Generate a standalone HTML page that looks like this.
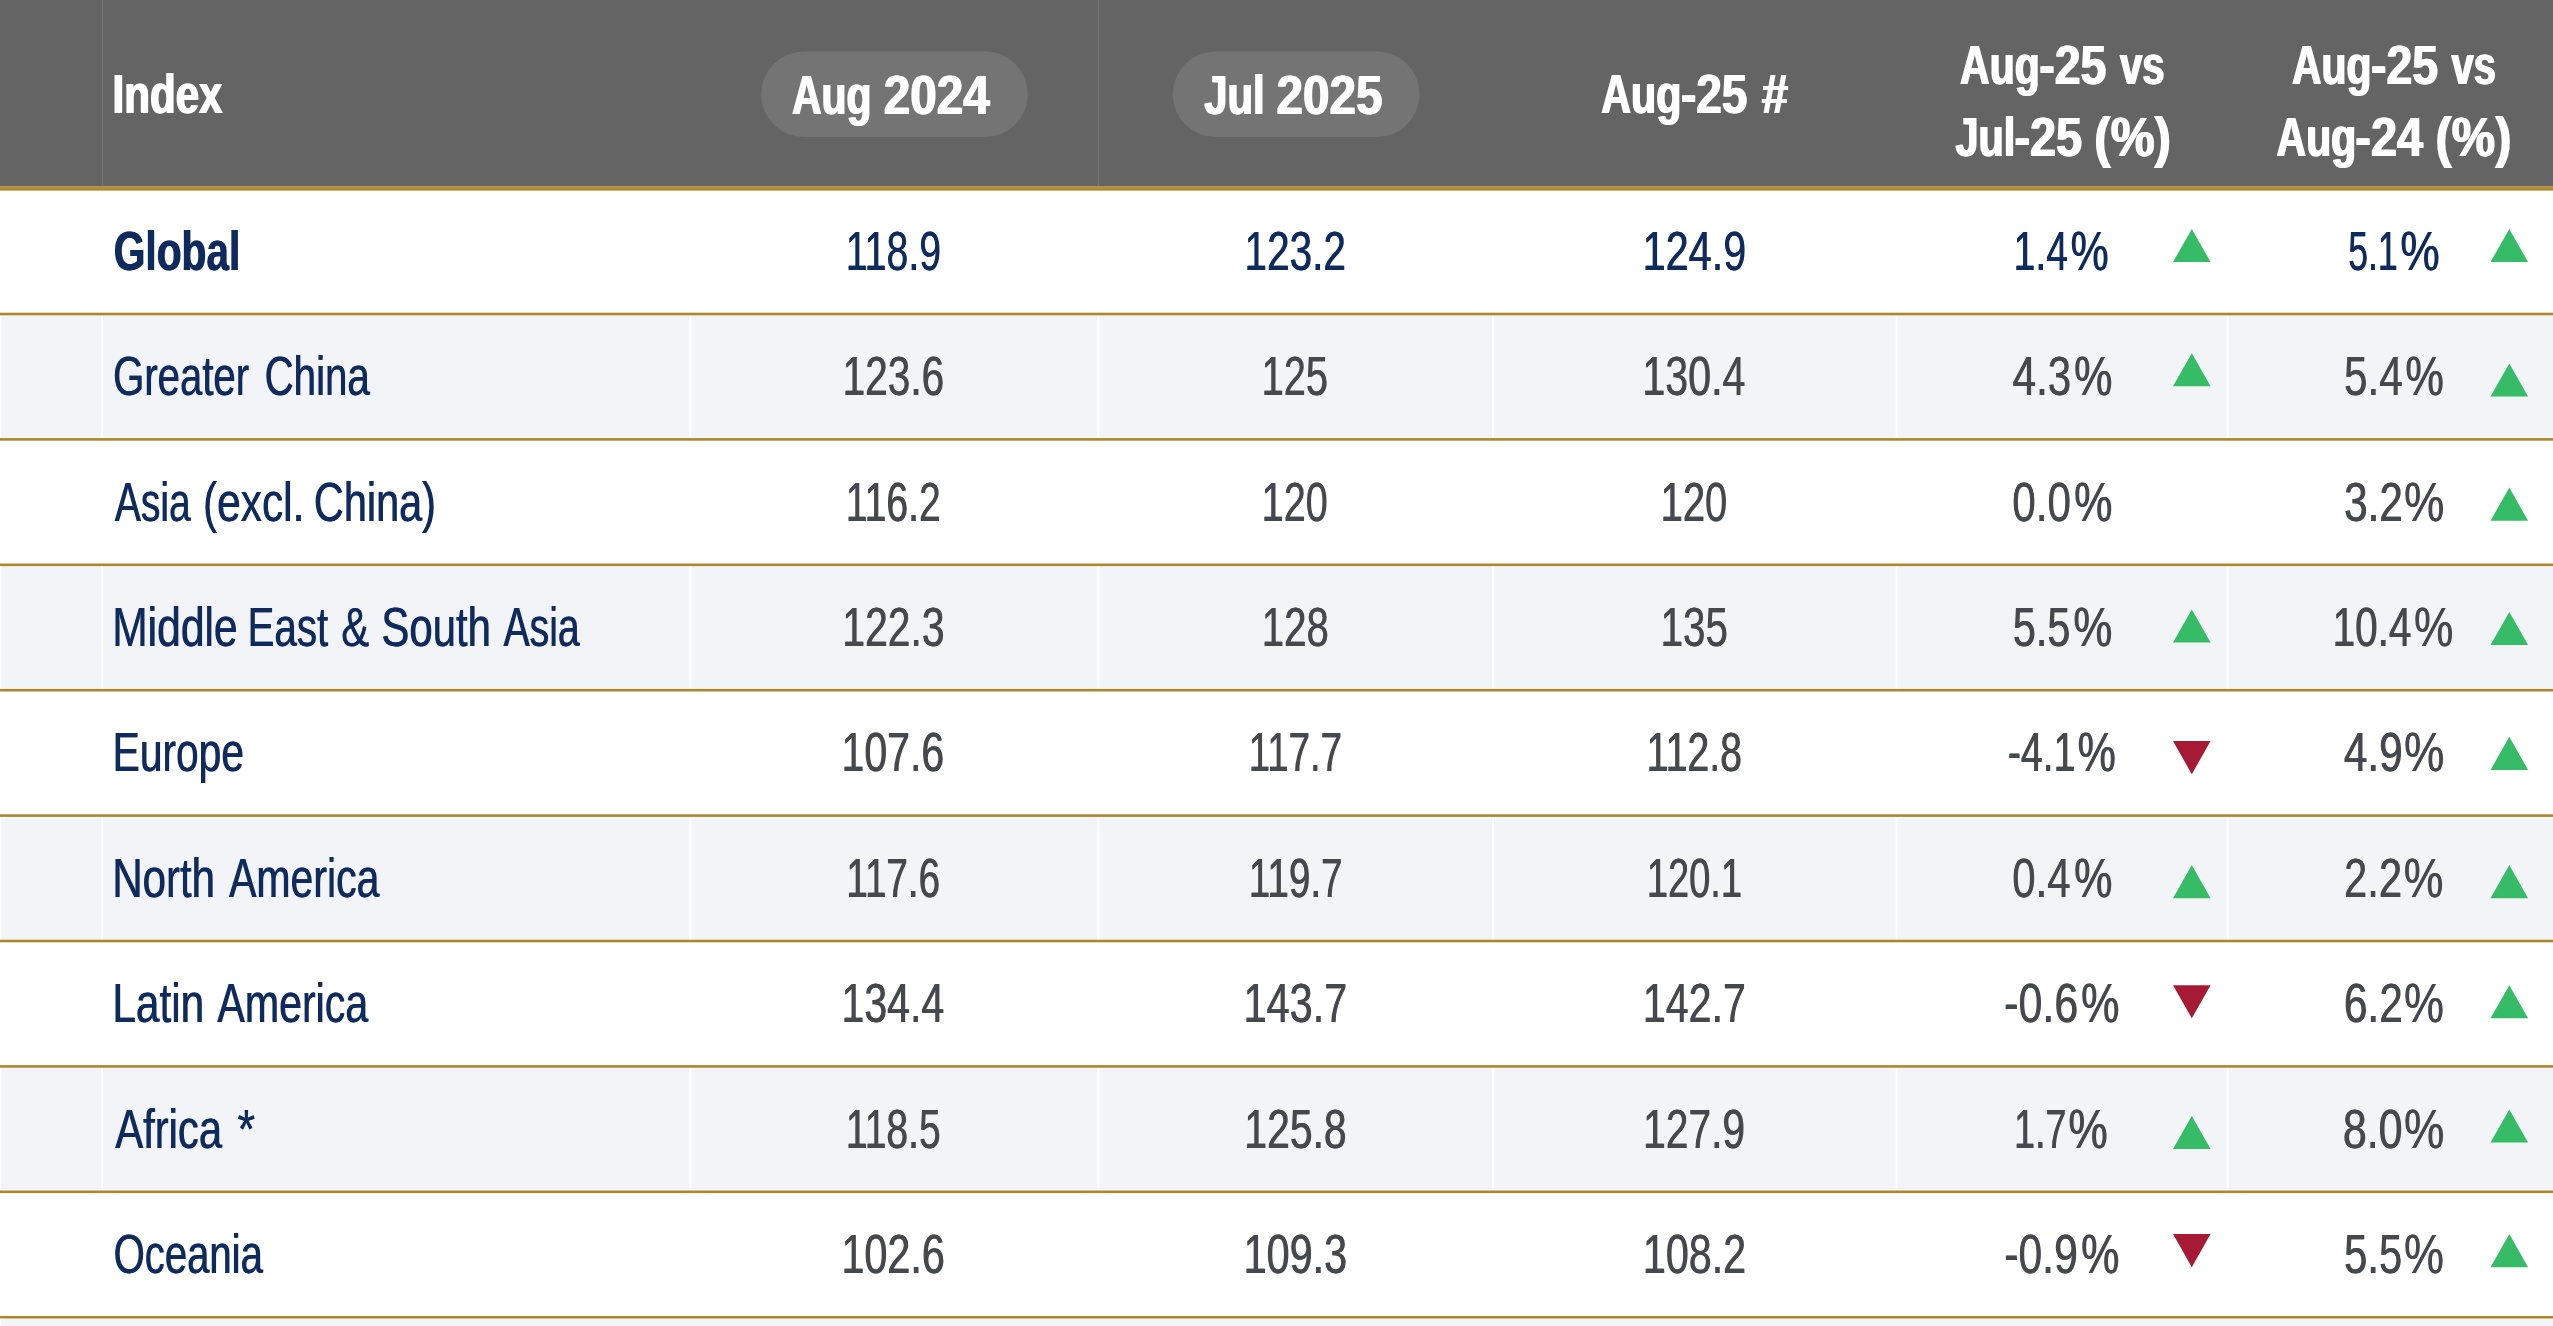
<!DOCTYPE html>
<html lang="en"><head><meta charset="utf-8"><title>Index table</title>
<style>
html,body{margin:0;padding:0;background:#fff}
body{position:relative;width:2553px;height:1326px;overflow:hidden;font-family:"Liberation Sans",Arial,Helvetica,sans-serif;font-size:55px;line-height:1}
svg{position:absolute;left:0;top:0;display:block}
.table{position:absolute;left:0;top:0;width:2553px;height:1326px;filter:blur(0.35px)}
.t{position:absolute;left:0;top:0;transform-origin:0 0;white-space:pre;font-weight:400}
.b{font-weight:700}.w{color:#fff}.n{color:#0f2a5c}.g{color:#47484d}
</style></head><body>
<svg width="2553" height="1326" viewBox="0 0 2553 1326">
<rect x="1.3" y="315.30" width="2553.0" height="122.80" fill="#f2f4f8"/>
<rect x="101.10" y="315.30" width="2.0" height="122.80" fill="#fff"/>
<rect x="689.50" y="315.30" width="1.8" height="122.80" fill="#fff"/>
<rect x="1097.50" y="315.30" width="1.8" height="122.80" fill="#fff"/>
<rect x="1492.30" y="315.30" width="1.8" height="122.80" fill="#fff"/>
<rect x="1895.70" y="315.30" width="1.8" height="122.80" fill="#fff"/>
<rect x="2226.80" y="315.30" width="1.8" height="122.80" fill="#fff"/>
<rect x="1.3" y="566.10" width="2553.0" height="122.80" fill="#f2f4f8"/>
<rect x="101.10" y="566.10" width="2.0" height="122.80" fill="#fff"/>
<rect x="689.50" y="566.10" width="1.8" height="122.80" fill="#fff"/>
<rect x="1097.50" y="566.10" width="1.8" height="122.80" fill="#fff"/>
<rect x="1492.30" y="566.10" width="1.8" height="122.80" fill="#fff"/>
<rect x="1895.70" y="566.10" width="1.8" height="122.80" fill="#fff"/>
<rect x="2226.80" y="566.10" width="1.8" height="122.80" fill="#fff"/>
<rect x="1.3" y="816.90" width="2553.0" height="122.80" fill="#f2f4f8"/>
<rect x="101.10" y="816.90" width="2.0" height="122.80" fill="#fff"/>
<rect x="689.50" y="816.90" width="1.8" height="122.80" fill="#fff"/>
<rect x="1097.50" y="816.90" width="1.8" height="122.80" fill="#fff"/>
<rect x="1492.30" y="816.90" width="1.8" height="122.80" fill="#fff"/>
<rect x="1895.70" y="816.90" width="1.8" height="122.80" fill="#fff"/>
<rect x="2226.80" y="816.90" width="1.8" height="122.80" fill="#fff"/>
<rect x="1.3" y="1067.70" width="2553.0" height="122.80" fill="#f2f4f8"/>
<rect x="101.10" y="1067.70" width="2.0" height="122.80" fill="#fff"/>
<rect x="689.50" y="1067.70" width="1.8" height="122.80" fill="#fff"/>
<rect x="1097.50" y="1067.70" width="1.8" height="122.80" fill="#fff"/>
<rect x="1492.30" y="1067.70" width="1.8" height="122.80" fill="#fff"/>
<rect x="1895.70" y="1067.70" width="1.8" height="122.80" fill="#fff"/>
<rect x="2226.80" y="1067.70" width="1.8" height="122.80" fill="#fff"/>
<rect x="1.3" y="1318.50" width="2553.0" height="7.50" fill="#f2f4f8"/>
<rect x="0" y="0" width="2553" height="186.3" fill="#646464"/>
<rect x="101.90" y="0" width="1.2" height="186.3" fill="#767676"/>
<rect x="1097.90" y="0" width="1.2" height="186.3" fill="#767676"/>
<rect x="0" y="186.4" width="2553" height="4.2" fill="#ad872d"/>
<rect x="0" y="186.4" width="2553" height="2.4" fill="#b3913b"/>
<rect x="0" y="312.70" width="2553" height="2.60" fill="#ad872d"/>
<rect x="0" y="438.10" width="2553" height="2.60" fill="#ad872d"/>
<rect x="0" y="563.50" width="2553" height="2.60" fill="#ad872d"/>
<rect x="0" y="688.90" width="2553" height="2.60" fill="#ad872d"/>
<rect x="0" y="814.30" width="2553" height="2.60" fill="#ad872d"/>
<rect x="0" y="939.70" width="2553" height="2.60" fill="#ad872d"/>
<rect x="0" y="1065.10" width="2553" height="2.60" fill="#ad872d"/>
<rect x="0" y="1190.50" width="2553" height="2.60" fill="#ad872d"/>
<rect x="0" y="1315.90" width="2553" height="2.60" fill="#ad872d"/>
<rect x="761.2" y="51.6" width="266.6" height="85.4" rx="42.7" fill="#747474"/>
<rect x="1172.7" y="51.6" width="246.9" height="85.4" rx="42.7" fill="#747474"/>
<polygon points="2191.80,228.90 2210.60,262.00 2173.00,262.00" fill="#36bb66"/>
<polygon points="2509.30,228.90 2528.10,262.00 2490.50,262.00" fill="#36bb66"/>
<polygon points="2191.80,353.20 2210.60,386.30 2173.00,386.30" fill="#36bb66"/>
<polygon points="2509.30,363.50 2528.10,396.60 2490.50,396.60" fill="#36bb66"/>
<polygon points="2509.30,487.60 2528.10,520.70 2490.50,520.70" fill="#36bb66"/>
<polygon points="2191.80,609.50 2210.60,642.60 2173.00,642.60" fill="#36bb66"/>
<polygon points="2509.30,611.90 2528.10,645.00 2490.50,645.00" fill="#36bb66"/>
<polygon points="2173.00,741.10 2210.60,741.10 2191.80,774.20" fill="#a61a36"/>
<polygon points="2509.30,736.80 2528.10,769.90 2490.50,769.90" fill="#36bb66"/>
<polygon points="2191.80,865.10 2210.60,898.20 2173.00,898.20" fill="#36bb66"/>
<polygon points="2509.30,865.10 2528.10,898.20 2490.50,898.20" fill="#36bb66"/>
<polygon points="2173.00,985.20 2210.60,985.20 2191.80,1018.30" fill="#a61a36"/>
<polygon points="2509.30,985.20 2528.10,1018.30 2490.50,1018.30" fill="#36bb66"/>
<polygon points="2191.80,1115.90 2210.60,1149.00 2173.00,1149.00" fill="#36bb66"/>
<polygon points="2509.30,1109.50 2528.10,1142.60 2490.50,1142.60" fill="#36bb66"/>
<polygon points="2173.00,1234.10 2210.60,1234.10 2191.80,1267.20" fill="#a61a36"/>
<polygon points="2509.30,1234.10 2528.10,1267.20 2490.50,1267.20" fill="#36bb66"/>
</svg>
<div class="table">
<div class="thead">
<div class="th"><span class="t b w" style="transform:translate(111.83px,67.00px) scaleX(0.7654);text-shadow:1.96px 0 0 currentColor">Index</span></div>
<div class="th"><span class="t b w" style="transform:translate(791.26px,68.00px) scaleX(0.7439);text-shadow:2.02px 0 0 currentColor">Aug</span> <span class="t b w" style="transform:translate(883.03px,68.00px) scaleX(0.8648);text-shadow:1.73px 0 0 currentColor">2024</span></div>
<div class="th"><span class="t b w" style="transform:translate(1203.50px,68.00px) scaleX(0.7607);text-shadow:1.97px 0 0 currentColor">Jul</span> <span class="t b w" style="transform:translate(1275.83px,68.00px) scaleX(0.8652);text-shadow:1.73px 0 0 currentColor">2025</span></div>
<div class="th"><span class="t b w" style="transform:translate(1600.62px,67.00px) scaleX(0.7478);text-shadow:2.01px 0 0 currentColor">Aug</span><span class="t b w" style="transform:translate(1680.19px,67.00px) scaleX(0.8351);text-shadow:1.80px 0 0 currentColor">-25</span> <span class="t b w" style="transform:translate(1760.89px,67.00px) scaleX(0.8624);text-shadow:1.74px 0 0 currentColor">#</span></div>
<div class="th"><span class="t b w" style="transform:translate(1959.32px,38.00px) scaleX(0.7451);text-shadow:2.01px 0 0 currentColor">Aug</span><span class="t b w" style="transform:translate(2038.55px,38.00px) scaleX(0.8436);text-shadow:1.78px 0 0 currentColor">-25</span> <span class="t b w" style="transform:translate(2119.19px,38.00px) scaleX(0.7315);text-shadow:2.05px 0 0 currentColor">vs</span> <span class="t b w" style="transform:translate(1954.70px,110.00px) scaleX(0.7535);text-shadow:1.99px 0 0 currentColor">Jul</span><span class="t b w" style="transform:translate(2013.64px,110.00px) scaleX(0.8529);text-shadow:1.76px 0 0 currentColor">-25</span> <span class="t b w" style="transform:translate(2093.50px,110.00px) scaleX(0.8960);text-shadow:1.67px 0 0 currentColor">(%)</span></div>
<div class="th"><span class="t b w" style="transform:translate(2291.31px,38.00px) scaleX(0.7433);text-shadow:2.02px 0 0 currentColor">Aug</span><span class="t b w" style="transform:translate(2370.29px,38.00px) scaleX(0.8429);text-shadow:1.78px 0 0 currentColor">-25</span> <span class="t b w" style="transform:translate(2450.81px,38.00px) scaleX(0.7255);text-shadow:2.07px 0 0 currentColor">vs</span> <span class="t b w" style="transform:translate(2275.82px,110.00px) scaleX(0.7441);text-shadow:2.02px 0 0 currentColor">Aug</span><span class="t b w" style="transform:translate(2354.62px,110.00px) scaleX(0.8516);text-shadow:1.76px 0 0 currentColor">-24</span> <span class="t b w" style="transform:translate(2434.85px,110.00px) scaleX(0.8860);text-shadow:1.69px 0 0 currentColor">(%)</span></div>
</div>
<div class="tr">
<div class="td"><span class="t b n" style="transform:translate(113.30px,224.00px) scaleX(0.7397);text-shadow:1.22px 0 0 currentColor">Global</span></div>
<div class="td"><span class="t n" style="transform:translate(845.44px,224.00px) scaleX(0.7135);text-shadow:0.91px 0 0 currentColor">118.9</span></div>
<div class="td"><span class="t n" style="transform:translate(1244.21px,224.00px) scaleX(0.7362);text-shadow:0.88px 0 0 currentColor">123.2</span></div>
<div class="td"><span class="t n" style="transform:translate(1642.31px,224.00px) scaleX(0.7528);text-shadow:0.86px 0 0 currentColor">124.9</span></div>
<div class="td"><span class="t n" style="transform:translate(2013.37px,224.00px) scaleX(0.7091);text-shadow:0.92px 0 0 currentColor">1.4</span><span class="t n" style="transform:translate(2070.24px,224.00px) scaleX(0.7782);text-shadow:0.84px 0 0 currentColor">%</span></div>
<div class="td"><span class="t n" style="transform:translate(2347.88px,224.00px) scaleX(0.6467);text-shadow:1.01px 0 0 currentColor">5.1</span><span class="t n" style="transform:translate(2400.06px,224.00px) scaleX(0.8046);text-shadow:0.81px 0 0 currentColor">%</span></div>
</div>
<div class="tr">
<div class="td"><span class="t n" style="transform:translate(112.79px,349.00px) scaleX(0.7294);text-shadow:0.89px 0 0 currentColor">Greater</span> <span class="t n" style="transform:translate(264.26px,349.00px) scaleX(0.7320);text-shadow:0.89px 0 0 currentColor">China</span></div>
<div class="td"><span class="t g" style="transform:translate(842.29px,349.00px) scaleX(0.7378);text-shadow:0.88px 0 0 currentColor">123.6</span></div>
<div class="td"><span class="t g" style="transform:translate(1261.31px,349.00px) scaleX(0.7231);text-shadow:0.90px 0 0 currentColor">125</span></div>
<div class="td"><span class="t g" style="transform:translate(1641.98px,349.00px) scaleX(0.7496);text-shadow:0.87px 0 0 currentColor">130.4</span></div>
<div class="td"><span class="t g" style="transform:translate(2012.32px,349.00px) scaleX(0.7653);text-shadow:0.85px 0 0 currentColor">4.3</span><span class="t g" style="transform:translate(2073.73px,349.00px) scaleX(0.7831);text-shadow:0.83px 0 0 currentColor">%</span></div>
<div class="td"><span class="t g" style="transform:translate(2343.71px,349.00px) scaleX(0.7671);text-shadow:0.85px 0 0 currentColor">5.4</span><span class="t g" style="transform:translate(2405.03px,349.00px) scaleX(0.7873);text-shadow:0.83px 0 0 currentColor">%</span></div>
</div>
<div class="tr">
<div class="td"><span class="t n" style="transform:translate(114.53px,475.00px) scaleX(0.7090);text-shadow:0.92px 0 0 currentColor">Asia</span> <span class="t n" style="transform:translate(202.72px,475.00px) scaleX(0.7712);text-shadow:0.84px 0 0 currentColor">(excl.</span> <span class="t n" style="transform:translate(313.60px,475.00px) scaleX(0.7532);text-shadow:0.86px 0 0 currentColor">China)</span></div>
<div class="td"><span class="t g" style="transform:translate(845.40px,475.00px) scaleX(0.7113);text-shadow:0.91px 0 0 currentColor">116.2</span></div>
<div class="td"><span class="t g" style="transform:translate(1261.35px,475.00px) scaleX(0.7203);text-shadow:0.90px 0 0 currentColor">120</span></div>
<div class="td"><span class="t g" style="transform:translate(1660.28px,475.00px) scaleX(0.7256);text-shadow:0.90px 0 0 currentColor">120</span></div>
<div class="td"><span class="t g" style="transform:translate(2011.92px,475.00px) scaleX(0.7689);text-shadow:0.85px 0 0 currentColor">0.0</span><span class="t g" style="transform:translate(2073.73px,475.00px) scaleX(0.7831);text-shadow:0.83px 0 0 currentColor">%</span></div>
<div class="td"><span class="t g" style="transform:translate(2343.86px,475.00px) scaleX(0.7671);text-shadow:0.85px 0 0 currentColor">3.2</span><span class="t g" style="transform:translate(2403.66px,475.00px) scaleX(0.8263);text-shadow:0.79px 0 0 currentColor">%</span></div>
</div>
<div class="tr">
<div class="td"><span class="t n" style="transform:translate(111.88px,600.00px) scaleX(0.7741);text-shadow:0.84px 0 0 currentColor">Middle</span> <span class="t n" style="transform:translate(247.14px,600.00px) scaleX(0.7334);text-shadow:0.89px 0 0 currentColor">East</span> <span class="t n" style="transform:translate(340.88px,600.00px) scaleX(0.7611);text-shadow:0.85px 0 0 currentColor">&amp;</span> <span class="t n" style="transform:translate(381.11px,600.00px) scaleX(0.7622);text-shadow:0.85px 0 0 currentColor">South</span> <span class="t n" style="transform:translate(503.27px,600.00px) scaleX(0.7113);text-shadow:0.91px 0 0 currentColor">Asia</span></div>
<div class="td"><span class="t g" style="transform:translate(842.10px,600.00px) scaleX(0.7415);text-shadow:0.88px 0 0 currentColor">122.3</span></div>
<div class="td"><span class="t g" style="transform:translate(1261.44px,600.00px) scaleX(0.7305);text-shadow:0.89px 0 0 currentColor">128</span></div>
<div class="td"><span class="t g" style="transform:translate(1660.27px,600.00px) scaleX(0.7337);text-shadow:0.89px 0 0 currentColor">135</span></div>
<div class="td"><span class="t g" style="transform:translate(2012.59px,600.00px) scaleX(0.7504);text-shadow:0.87px 0 0 currentColor">5.5</span><span class="t g" style="transform:translate(2073.08px,600.00px) scaleX(0.7972);text-shadow:0.82px 0 0 currentColor">%</span></div>
<div class="td"><span class="t g" style="transform:translate(2332.26px,600.00px) scaleX(0.7360);text-shadow:0.88px 0 0 currentColor">10.4</span><span class="t g" style="transform:translate(2413.69px,600.00px) scaleX(0.8054);text-shadow:0.81px 0 0 currentColor">%</span></div>
</div>
<div class="tr">
<div class="td"><span class="t n" style="transform:translate(112.34px,725.00px) scaleX(0.7403);text-shadow:0.88px 0 0 currentColor">Europe</span></div>
<div class="td"><span class="t g" style="transform:translate(841.16px,725.00px) scaleX(0.7465);text-shadow:0.87px 0 0 currentColor">107.6</span></div>
<div class="td"><span class="t g" style="transform:translate(1248.39px,725.00px) scaleX(0.6989);text-shadow:0.93px 0 0 currentColor">117.7</span></div>
<div class="td"><span class="t g" style="transform:translate(1646.30px,725.00px) scaleX(0.7145);text-shadow:0.91px 0 0 currentColor">112.8</span></div>
<div class="td"><span class="t g" style="transform:translate(2007.58px,725.00px) scaleX(0.7119);text-shadow:0.91px 0 0 currentColor">-4.1</span><span class="t g" style="transform:translate(2077.35px,725.00px) scaleX(0.7823);text-shadow:0.83px 0 0 currentColor">%</span></div>
<div class="td"><span class="t g" style="transform:translate(2343.52px,725.00px) scaleX(0.7703);text-shadow:0.84px 0 0 currentColor">4.9</span><span class="t g" style="transform:translate(2403.66px,725.00px) scaleX(0.8263);text-shadow:0.79px 0 0 currentColor">%</span></div>
</div>
<div class="tr">
<div class="td"><span class="t n" style="transform:translate(112.03px,851.00px) scaleX(0.7634);text-shadow:0.85px 0 0 currentColor">North</span> <span class="t n" style="transform:translate(228.76px,851.00px) scaleX(0.7450);text-shadow:0.87px 0 0 currentColor">America</span></div>
<div class="td"><span class="t g" style="transform:translate(846.06px,851.00px) scaleX(0.7016);text-shadow:0.93px 0 0 currentColor">117.6</span></div>
<div class="td"><span class="t g" style="transform:translate(1248.42px,851.00px) scaleX(0.7020);text-shadow:0.93px 0 0 currentColor">119.7</span></div>
<div class="td"><span class="t g" style="transform:translate(1646.52px,851.00px) scaleX(0.6912);text-shadow:0.94px 0 0 currentColor">120.1</span></div>
<div class="td"><span class="t g" style="transform:translate(2011.94px,851.00px) scaleX(0.7622);text-shadow:0.85px 0 0 currentColor">0.4</span><span class="t g" style="transform:translate(2073.73px,851.00px) scaleX(0.7831);text-shadow:0.83px 0 0 currentColor">%</span></div>
<div class="td"><span class="t g" style="transform:translate(2343.71px,851.00px) scaleX(0.7588);text-shadow:0.86px 0 0 currentColor">2.2</span><span class="t g" style="transform:translate(2403.40px,851.00px) scaleX(0.8113);text-shadow:0.80px 0 0 currentColor">%</span></div>
</div>
<div class="tr">
<div class="td"><span class="t n" style="transform:translate(112.03px,976.00px) scaleX(0.7704);text-shadow:0.84px 0 0 currentColor">Latin</span> <span class="t n" style="transform:translate(217.12px,976.00px) scaleX(0.7474);text-shadow:0.87px 0 0 currentColor">America</span></div>
<div class="td"><span class="t g" style="transform:translate(841.17px,976.00px) scaleX(0.7464);text-shadow:0.87px 0 0 currentColor">134.4</span></div>
<div class="td"><span class="t g" style="transform:translate(1243.34px,976.00px) scaleX(0.7524);text-shadow:0.86px 0 0 currentColor">143.7</span></div>
<div class="td"><span class="t g" style="transform:translate(1642.56px,976.00px) scaleX(0.7484);text-shadow:0.87px 0 0 currentColor">142.7</span></div>
<div class="td"><span class="t g" style="transform:translate(2003.86px,976.00px) scaleX(0.7817);text-shadow:0.83px 0 0 currentColor">-0.6</span><span class="t g" style="transform:translate(2080.73px,976.00px) scaleX(0.7831);text-shadow:0.83px 0 0 currentColor">%</span></div>
<div class="td"><span class="t g" style="transform:translate(2343.50px,976.00px) scaleX(0.7720);text-shadow:0.84px 0 0 currentColor">6.2</span><span class="t g" style="transform:translate(2403.69px,976.00px) scaleX(0.8177);text-shadow:0.79px 0 0 currentColor">%</span></div>
</div>
<div class="tr">
<div class="td"><span class="t n" style="transform:translate(114.98px,1102.00px) scaleX(0.7591);text-shadow:0.86px 0 0 currentColor">Africa</span> <span class="t n" style="transform:translate(237.14px,1102.00px) scaleX(0.8238);text-shadow:0.79px 0 0 currentColor">*</span></div>
<div class="td"><span class="t g" style="transform:translate(845.59px,1102.00px) scaleX(0.7096);text-shadow:0.92px 0 0 currentColor">118.5</span></div>
<div class="td"><span class="t g" style="transform:translate(1244.08px,1102.00px) scaleX(0.7426);text-shadow:0.88px 0 0 currentColor">125.8</span></div>
<div class="td"><span class="t g" style="transform:translate(1642.81px,1102.00px) scaleX(0.7408);text-shadow:0.88px 0 0 currentColor">127.9</span></div>
<div class="td"><span class="t g" style="transform:translate(2013.84px,1102.00px) scaleX(0.6838);text-shadow:0.95px 0 0 currentColor">1.7</span><span class="t g" style="transform:translate(2068.12px,1102.00px) scaleX(0.8055);text-shadow:0.81px 0 0 currentColor">%</span></div>
<div class="td"><span class="t g" style="transform:translate(2342.55px,1102.00px) scaleX(0.7798);text-shadow:0.83px 0 0 currentColor">8.0</span><span class="t g" style="transform:translate(2403.66px,1102.00px) scaleX(0.8263);text-shadow:0.79px 0 0 currentColor">%</span></div>
</div>
<div class="tr">
<div class="td"><span class="t n" style="transform:translate(113.30px,1227.00px) scaleX(0.7286);text-shadow:0.89px 0 0 currentColor">Oceania</span></div>
<div class="td"><span class="t g" style="transform:translate(841.15px,1227.00px) scaleX(0.7508);text-shadow:0.87px 0 0 currentColor">102.6</span></div>
<div class="td"><span class="t g" style="transform:translate(1243.32px,1227.00px) scaleX(0.7522);text-shadow:0.86px 0 0 currentColor">109.3</span></div>
<div class="td"><span class="t g" style="transform:translate(1642.56px,1227.00px) scaleX(0.7500);text-shadow:0.87px 0 0 currentColor">108.2</span></div>
<div class="td"><span class="t g" style="transform:translate(2003.95px,1227.00px) scaleX(0.7755);text-shadow:0.84px 0 0 currentColor">-0.9</span><span class="t g" style="transform:translate(2080.73px,1227.00px) scaleX(0.7831);text-shadow:0.83px 0 0 currentColor">%</span></div>
<div class="td"><span class="t g" style="transform:translate(2343.85px,1227.00px) scaleX(0.7588);text-shadow:0.86px 0 0 currentColor">5.5</span><span class="t g" style="transform:translate(2403.69px,1227.00px) scaleX(0.8177);text-shadow:0.79px 0 0 currentColor">%</span></div></div></div>
</body></html>
